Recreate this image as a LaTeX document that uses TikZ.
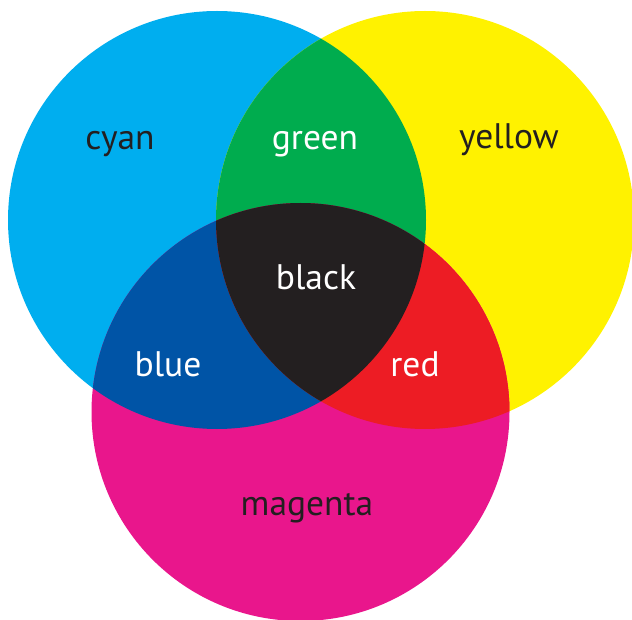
\documentclass[tikz,border=0pt]{standalone}
\usepackage{fontspec}
\setmainfont{PT Sans}
\definecolor{cCyan}{HTML}{00AEEF}
\definecolor{cYellow}{HTML}{FFF200}
\definecolor{cMagenta}{HTML}{E9168C}
\definecolor{cGreen}{HTML}{00AC4E}
\definecolor{cBlue}{HTML}{0054A6}
\definecolor{cRed}{HTML}{ED1C24}
\definecolor{cBlack}{HTML}{231F20}
\tikzset{
  lbl/.style={font=\fontsize{35.5}{36}\selectfont, inner sep=0pt, anchor=base},
  darklbl/.style={lbl, text=cBlack},
  lightlbl/.style={lbl, text=white},
}
\begin{document}
\begin{tikzpicture}[x=1pt,y=-1pt]
\useasboundingbox (0,0) rectangle (632,620);
\def\R{209}
\coordinate (C) at (217,220);
\coordinate (Y) at (425,220);
\coordinate (M) at (300.5,412);
\fill[cCyan] (C) circle (\R);
\fill[cYellow] (Y) circle (\R);
\fill[cMagenta] (M) circle (\R);
\begin{scope}
  \clip (C) circle (\R);
  \fill[cGreen] (Y) circle (\R);
  \fill[cBlue] (M) circle (\R);
\end{scope}
\begin{scope}
  \clip (Y) circle (\R);
  \fill[cRed] (M) circle (\R);
\end{scope}
\begin{scope}
  \clip (C) circle (\R);
  \clip (Y) circle (\R);
  \fill[cBlack] (M) circle (\R);
\end{scope}
\node[darklbl] (cyan) at (120,150) {cyan};
\node[lightlbl] (green) at (315,150) {green};
\node[darklbl] (yellow) at (509,149) {yellow};
\node[lightlbl] (black) at (316,290) {black};
\node[lightlbl] (blue) at (168,377) {blue};
\node[lightlbl] (red) at (415,377) {red};
\node[darklbl] (magenta) at (307,515) {magenta};
\end{tikzpicture}
\end{document}
